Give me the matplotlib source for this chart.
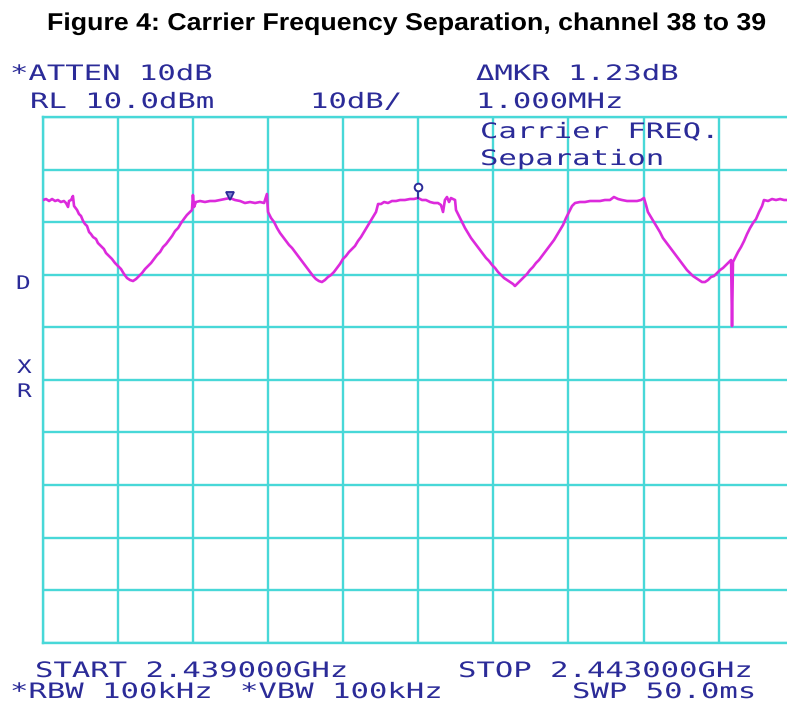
import matplotlib
matplotlib.use("Agg")
import matplotlib.pyplot as plt
import numpy as np
from matplotlib.patheffects import AbstractPathEffect
from matplotlib.transforms import Affine2D

start_mhz = 2439.0
stop_mhz = 2443.0
ref_level_dbm = 10.0
db_per_div = 10.0

freq_mhz = [
    2439.002, 2439.018, 2439.034, 2439.050, 2439.066, 2439.081, 2439.097, 2439.113, 2439.124, 2439.135,
    2439.140, 2439.151, 2439.161, 2439.167, 2439.183, 2439.193, 2439.204, 2439.215, 2439.225, 2439.236,
    2439.247, 2439.257, 2439.268, 2439.284, 2439.294, 2439.310, 2439.326, 2439.337, 2439.353, 2439.369,
    2439.385, 2439.401, 2439.417, 2439.433, 2439.449, 2439.465, 2439.481, 2439.497, 2439.513, 2439.529,
    2439.545, 2439.561, 2439.577, 2439.593, 2439.609, 2439.625, 2439.641, 2439.657, 2439.673, 2439.689,
    2439.705, 2439.721, 2439.737, 2439.752, 2439.768, 2439.784, 2439.795, 2439.800, 2439.806, 2439.816,
    2439.838, 2439.864, 2439.891, 2439.918, 2439.944, 2439.971, 2439.997, 2440.024, 2440.051, 2440.077,
    2440.104, 2440.131, 2440.157, 2440.179, 2440.194, 2440.200, 2440.216, 2440.232, 2440.248, 2440.264,
    2440.280, 2440.296, 2440.312, 2440.328, 2440.344, 2440.360, 2440.376, 2440.392, 2440.408, 2440.424,
    2440.440, 2440.455, 2440.471, 2440.487, 2440.503, 2440.519, 2440.535, 2440.551, 2440.567, 2440.583,
    2440.599, 2440.615, 2440.631, 2440.647, 2440.663, 2440.679, 2440.695, 2440.711, 2440.727, 2440.743,
    2440.759, 2440.775, 2440.786, 2440.802, 2440.818, 2440.839, 2440.860, 2440.882, 2440.903, 2440.929,
    2440.956, 2440.977, 2440.999, 2441.020, 2441.041, 2441.063, 2441.084, 2441.105, 2441.121, 2441.132,
    2441.142, 2441.153, 2441.164, 2441.174, 2441.185, 2441.196, 2441.201, 2441.217, 2441.233, 2441.249,
    2441.265, 2441.281, 2441.297, 2441.313, 2441.329, 2441.345, 2441.361, 2441.377, 2441.393, 2441.409,
    2441.425, 2441.441, 2441.457, 2441.473, 2441.489, 2441.505, 2441.515, 2441.531, 2441.547, 2441.563,
    2441.579, 2441.595, 2441.611, 2441.627, 2441.643, 2441.659, 2441.675, 2441.691, 2441.707, 2441.723,
    2441.739, 2441.755, 2441.771, 2441.787, 2441.803, 2441.819, 2441.835, 2441.861, 2441.888, 2441.915,
    2441.941, 2441.968, 2441.994, 2442.021, 2442.042, 2442.064, 2442.085, 2442.112, 2442.138, 2442.165,
    2442.186, 2442.202, 2442.213, 2442.223, 2442.239, 2442.255, 2442.271, 2442.287, 2442.303, 2442.319,
    2442.335, 2442.351, 2442.367, 2442.383, 2442.399, 2442.415, 2442.431, 2442.447, 2442.463, 2442.479,
    2442.495, 2442.511, 2442.527, 2442.543, 2442.559, 2442.575, 2442.591, 2442.607, 2442.623, 2442.639,
    2442.655, 2442.666, 2442.671, 2442.676, 2442.687, 2442.703, 2442.719, 2442.735, 2442.751, 2442.767,
    2442.783, 2442.799, 2442.815, 2442.831, 2442.841, 2442.863, 2442.884, 2442.905, 2442.927, 2442.948,
    2442.964, 2443.000,
]

level_dbm = [
    -5.79, -5.60, -5.98, -5.60, -5.98, -5.79, -6.17, -5.98, -6.36, -7.12,
    -5.98, -5.79, -5.03, -6.93, -7.69, -8.45, -8.83, -9.78, -10.35, -10.73,
    -11.88, -12.26, -12.83, -13.21, -13.97, -14.54, -15.11, -15.87, -16.44, -17.01,
    -17.77, -18.34, -18.92, -19.87, -20.63, -21.01, -21.20, -20.82, -20.25, -19.68,
    -18.92, -18.34, -17.77, -17.01, -16.25, -15.68, -14.73, -14.16, -13.40, -12.64,
    -11.69, -11.12, -10.16, -9.40, -8.64, -8.07, -7.69, -4.84, -7.12, -6.17,
    -5.98, -6.17, -5.98, -5.98, -5.79, -5.60, -5.41, -5.79, -5.98, -6.36,
    -6.17, -6.36, -6.17, -6.36, -4.65, -8.07, -9.21, -9.97, -11.12, -12.07,
    -12.83, -13.59, -14.35, -14.92, -15.68, -16.44, -17.20, -17.96, -18.72, -19.49,
    -20.25, -20.82, -21.20, -21.39, -21.01, -20.44, -20.06, -19.49, -18.72, -17.96,
    -17.01, -16.44, -15.68, -15.11, -14.54, -13.59, -12.83, -11.88, -10.93, -9.97,
    -9.02, -8.07, -6.55, -6.55, -6.17, -6.36, -5.98, -5.98, -5.79, -5.79,
    -5.60, -5.60, -5.41, -5.79, -5.79, -6.17, -6.36, -6.36, -6.74, -8.07,
    -5.79, -5.22, -6.17, -5.41, -5.60, -5.79, -7.69, -8.83, -9.97, -11.12,
    -12.07, -13.02, -13.78, -14.54, -15.30, -16.06, -16.82, -17.39, -18.15, -18.72,
    -19.49, -20.06, -20.63, -21.01, -21.39, -21.77, -22.15, -21.58, -21.01, -20.44,
    -19.87, -19.11, -18.53, -17.77, -17.20, -16.44, -15.68, -14.92, -14.16, -13.40,
    -12.45, -11.50, -10.54, -9.21, -8.07, -6.93, -6.36, -6.17, -6.17, -5.98,
    -5.98, -5.98, -5.79, -5.79, -5.22, -5.60, -5.79, -5.98, -5.98, -5.98,
    -5.79, -5.41, -6.74, -8.07, -9.02, -9.97, -10.93, -11.88, -13.02, -13.78,
    -14.54, -15.30, -16.06, -16.82, -17.58, -18.34, -19.11, -19.68, -20.25, -20.63,
    -21.01, -21.39, -21.39, -21.01, -20.44, -20.25, -19.68, -19.11, -18.72, -18.15,
    -17.58, -17.20, -29.76, -17.58, -16.82, -15.68, -14.73, -13.59, -12.26, -11.12,
    -10.16, -9.40, -8.07, -6.93, -5.79, -5.98, -5.60, -5.79, -5.60, -5.79,
    -5.79, -5.98,
]

marker_freq_mhz = [2440.0, 2441.0]
marker_level_dbm = [-5.41, -5.41]

header_left = ["*ATTEN 10dB", "RL 10.0dBm"]
header_scale = "10dB/"
header_right = ["\u0394MKR 1.23dB", "1.000MHz"]
screen_title = ["Carrier FREQ.", "Separation"]
side_labels = ["D", "X", "R"]
footer = ["START 2.439000GHz", "STOP 2.443000GHz", "*RBW 100kHz", "*VBW 100kHz", "SWP 50.0ms"]
figure_title = "Figure 4: Carrier Frequency Separation, channel 38 to 39"

# ---------------- styling ----------------
W, H = 787, 710
GRID = "#48d8d8"
TRACE = "#dc2adc"
NAVY = "#2b2b98"


class HStretch(AbstractPathEffect):
    """Widen glyphs horizontally (the source image is horizontally stretched)."""

    def __init__(self, sx):
        super().__init__()
        self._sx = sx

    def draw_path(self, renderer, gc, tpath, affine, rgbFace=None):
        renderer.draw_path(gc, tpath, Affine2D().scale(self._sx, 1.0) + affine, rgbFace)


fig = plt.figure(figsize=(W / 100, H / 100), dpi=100, facecolor="white")

left_px, right_px, top_px, bottom_px = 42.7, 793.8, 117.0, 642.7
ax = fig.add_axes([left_px / W, 1 - bottom_px / H, (right_px - left_px) / W, (bottom_px - top_px) / H])
ax.set_facecolor("white")
ax.set_xlim(start_mhz, stop_mhz)
ax.set_ylim(ref_level_dbm - 10 * db_per_div, ref_level_dbm)
ax.set_xticks(np.linspace(start_mhz, stop_mhz, 11))
ax.set_yticks(np.linspace(ref_level_dbm - 10 * db_per_div, ref_level_dbm, 11))
ax.grid(True, color=GRID, linewidth=1.7)
ax.tick_params(length=0, labelbottom=False, labelleft=False)
for sp in ax.spines.values():
    sp.set_color(GRID)
    sp.set_linewidth(1.7)

ax.plot(freq_mhz, level_dbm, color=TRACE, linewidth=1.9, zorder=3)

# markers: normal marker (triangle) and delta marker (circle on a stem)
ax.plot(marker_freq_mhz[0], marker_level_dbm[0] + 0.3, marker="v", markersize=6,
        markerfacecolor="#8080d0", markeredgecolor=NAVY, markeredgewidth=1.3, zorder=4)
ax.plot([marker_freq_mhz[1], marker_freq_mhz[1]], [marker_level_dbm[1], marker_level_dbm[1] + 1.4],
        color=NAVY, linewidth=1.3, zorder=4)
ax.plot(marker_freq_mhz[1], marker_level_dbm[1] + 2.1, marker="o", markersize=5.5,
        markerfacecolor="white", markeredgecolor=NAVY, markeredgewidth=1.4, zorder=4)

SX = 1.44
FS = 15.3


def screen_text(x_px, base_px, s, fs=FS, sx=SX):
    fig.text(x_px / W, 1 - base_px / H, s, fontsize=fs, family="DejaVu Sans Mono",
             color=NAVY, ha="left", va="baseline", path_effects=[HStretch(sx)])


screen_text(10, 80, header_left[0])
screen_text(30, 108, header_left[1])
screen_text(310, 108, header_scale)
screen_text(476, 80, header_right[0])
screen_text(476, 108, header_right[1])
screen_text(480, 138, screen_title[0])
screen_text(480, 165, screen_title[1])
screen_text(16, 289, side_labels[0], fs=13.5, sx=1.3)
screen_text(17, 373, side_labels[1], fs=13.5, sx=1.3)
screen_text(17, 397, side_labels[2], fs=13.5, sx=1.3)
screen_text(35, 677, footer[0])
screen_text(458, 677, footer[1])
screen_text(10, 698, footer[2])
screen_text(240, 698, footer[3])
screen_text(572, 698, footer[4])

fig.text(47 / W, 1 - 30 / H, figure_title, fontsize=17.5, fontweight="bold",
         family="Liberation Sans", color="black", ha="left", va="baseline",
         path_effects=[HStretch(1.1)])

fig.savefig("out.png", dpi=100, facecolor="white")
